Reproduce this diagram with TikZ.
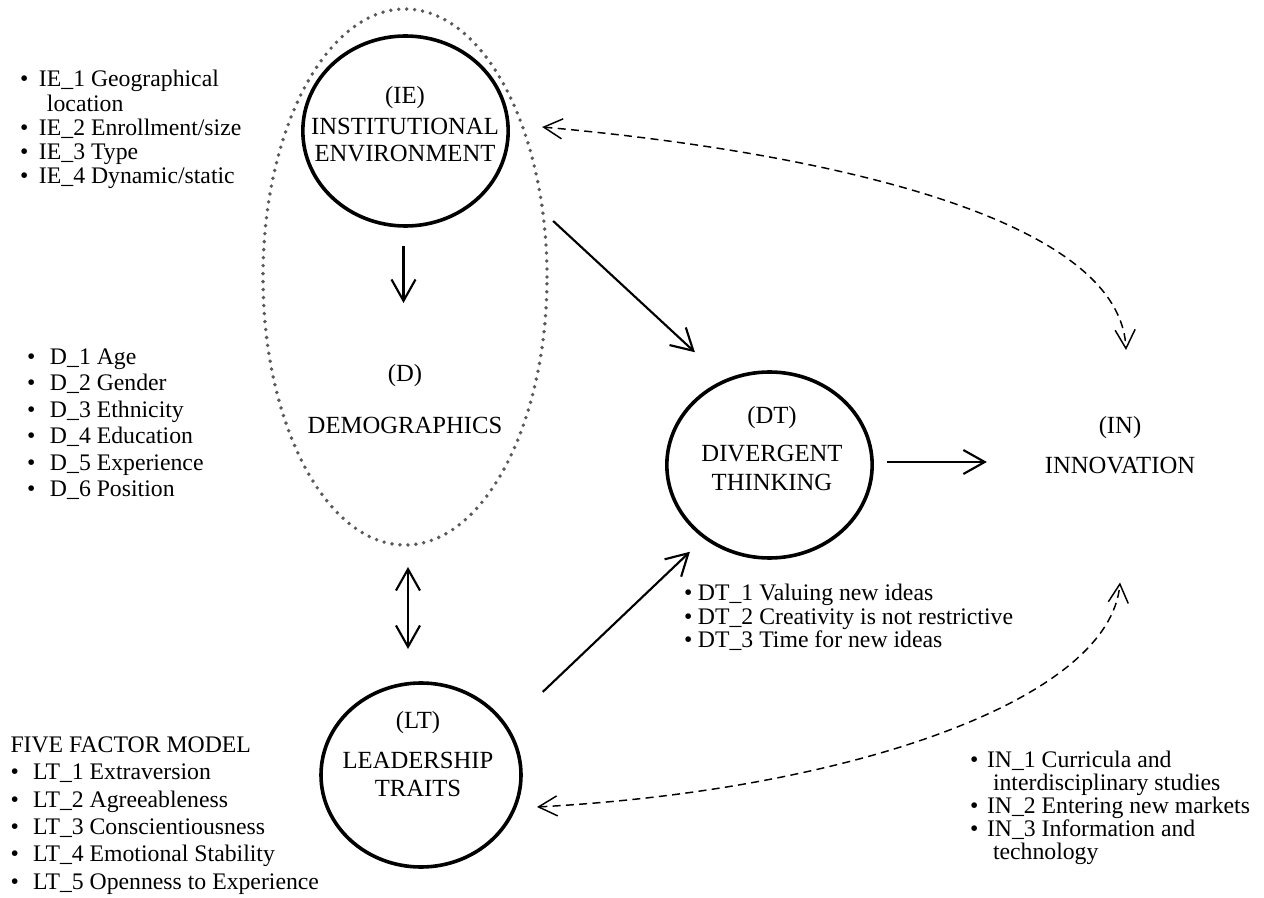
\documentclass[tikz,border=0pt]{standalone}
\usepackage{fontspec}
\setmainfont{Liberation Serif}
\usetikzlibrary{arrows.meta,shapes.geometric,calc}
\definecolor{dotgray}{RGB}{90,90,90}
\newcommand{\bu}[1]{\makebox[#1][l]{\textbullet}}
\newcommand{\lfont}[1]{\fontsize{17.8pt}{#1}\selectfont}
\newcommand{\cfont}[1]{\fontsize{18.5pt}{#1}\selectfont}
\begin{document}
\begin{tikzpicture}[x=0.75pt,y=-0.75pt,
  every node/.style={inner sep=0pt,outer sep=0pt},
  construct/.style={ellipse,draw,line width=2.7pt},
  dottedring/.style={ellipse,draw=dotgray,line width=2.9pt,line cap=round,dash pattern=on 0pt off 6pt},
  conlabel/.style={align=center,anchor=north},
  listbox/.style={align=left,anchor=north west},
  arr/.style={line width=1.6pt,-{Straight Barb[length=16pt,width=18pt]}},
  biarr/.style={line width=1.6pt,{Straight Barb[length=16pt,width=18pt]}-{Straight Barb[length=16pt,width=18pt]}},
  darr/.style={line width=1.1pt,dash pattern=on 6pt off 4pt,{Straight Barb[length=14pt,width=15pt]}-{Straight Barb[length=14pt,width=15pt]}}]
\fill[white,use as bounding box] (0,0) rectangle (1264,898);

% constructs
\node[dottedring,minimum width=213pt,minimum height=402pt] (dem) at (405,277) {};
\node[construct,minimum width=154pt,minimum height=142.5pt] (ie) at (405.5,131) {};
\node[construct,minimum width=154pt,minimum height=139.5pt] (dt) at (769.5,465) {};
\node[construct,minimum width=150pt,minimum height=138pt] (lt) at (421,775) {};

% construct labels
\node[conlabel,font=\cfont{20.25pt}] (ielab) at (405,86) {(IE)\\[3pt]INSTITUTIONAL\\ENVIRONMENT};
\node[conlabel,font=\cfont{20pt}] (dlab) at (405,364) {(D)\\[19pt]DEMOGRAPHICS};
\node[conlabel,font=\cfont{21.75pt}] (dtlab) at (772,406) {(DT)\\[6.75pt]DIVERGENT\\THINKING};
\node[conlabel,font=\cfont{21pt}] (ltlab) at (418,711) {(LT)\\[9pt]LEADERSHIP\\TRAITS};
\node[conlabel,font=\cfont{21pt}] (in) at (1120,416) {(IN)\\[9pt]INNOVATION};

% lists
\node[listbox,font=\lfont{18.2pt}] (ielist) at (20,70.4)
  {\bu{14.25pt}IE\_1 Geographical\\\hspace{20.25pt}location\\\bu{14.25pt}IE\_2 Enrollment/size\\\bu{14.25pt}IE\_3 Type\\\bu{14.25pt}IE\_4 Dynamic/static};
\node[listbox,font=\lfont{19.9pt}] (dlist) at (27,348.4)
  {\bu{17.25pt}D\_1 Age\\\bu{17.25pt}D\_2 Gender\\\bu{17.25pt}D\_3 Ethnicity\\\bu{17.25pt}D\_4 Education\\\bu{17.25pt}D\_5 Experience\\\bu{17.25pt}D\_6 Position};
\node[listbox,font=\lfont{20.6pt}] (ltlist) at (10.5,736.4)
  {FIVE FACTOR MODEL\\\bu{17pt}LT\_1 Extraversion\\\bu{17pt}LT\_2 Agreeableness\\\bu{17pt}LT\_3 Conscientiousness\\\bu{17pt}LT\_4 Emotional Stability\\\bu{17pt}LT\_5 Openness to Experience};
\node[listbox,font=\lfont{17.6pt}] (dtlist) at (684,584.4)
  {\bu{10.5pt}DT\_1 Valuing new ideas\\\bu{10.5pt}DT\_2 Creativity is not restrictive\\\bu{10.5pt}DT\_3 Time for new ideas};
\node[listbox,font=\lfont{17.25pt}] (inlist) at (970,751.4)
  {\bu{12.75pt}IN\_1 Curricula and\\\hspace{17.25pt}interdisciplinary studies\\\bu{12.75pt}IN\_2 Entering new markets\\\bu{12.75pt}IN\_3 Information and\\\hspace{17.25pt}technology};

% connectors
\draw[arr,shorten <=15pt,shorten >=45.75pt] ([xshift=-1.5pt]ie.south) -- ([xshift=-1.5pt]ie.south |- dlab.north);
\draw[biarr,shorten <=16.5pt,shorten >=25.5pt] ([xshift=2.25pt]dem.south) -- ([xshift=2.25pt]dem.south |- lt.north);
\draw[arr] ($(ie.east)+(45,90)$) -- ($(dt.north west)+(-2,-47)$);
\draw[arr] ($(lt.north east)+(51,-18)$) -- ($(dt.south west)+(-7,21)$);
\draw[arr,shorten <=11.25pt,shorten >=43.5pt] ($(dt.east)+(0,-3)$) -- ($(dt.east -| in.west)+(0,-3)$);
\draw[darr] ($(ie.east)+(34,-4)$) .. controls (800,150) and (1120,212) .. ($(in.north)+(6,-66)$);
\draw[darr] ($(lt.east)+(16,32)$) .. controls (850,790) and (1110,700) .. ($(in.south)+(0,109)$);
\end{tikzpicture}
\end{document}
